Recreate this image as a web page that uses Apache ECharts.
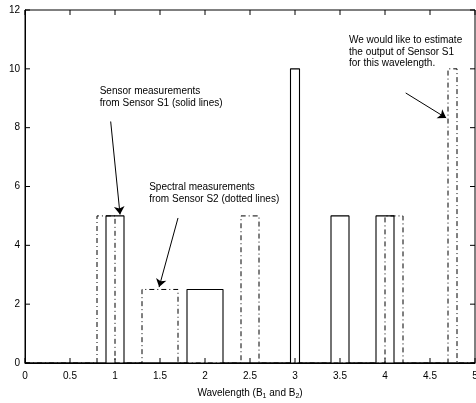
<!DOCTYPE html>
<html>
<head>
<meta charset="utf-8">
<script src="https://cdn.jsdelivr.net/npm/echarts@6/dist/echarts.min.js"></script>
<style>
  html, body { margin: 0; padding: 0; background: #fff; }
  #main { width: 476px; height: 403px; }
</style>
</head>
<body>
<div id="main"></div>
<script>
// Sensor S1 (solid lines): band start, band end, power
const s1Starts = [0.9, 1.8, 2.95, 3.4, 3.9];
const s1Ends = [1.1, 2.2, 3.05, 3.6, 4.1];
const s1Power = [5, 2.5, 10, 5, 5];

// Sensor S2 (dash-dot lines)
const s2Starts = [0.8, 1.3, 2.4, 4.0, 4.7];
const s2Ends = [1.0, 1.7, 2.6, 4.2, 4.8];
const s2Power = [5, 2.5, 5, 5, 10];

// tick values (box ticks on all four sides)
const xTicks = [0, 0.5, 1, 1.5, 2, 2.5, 3, 3.5, 4, 4.5, 5];
const yTicks = [0, 2, 4, 6, 8, 10, 12];

// annotation texts, anchor (top-left) in data units
const noteTexts = [
  'Sensor measurements\nfrom Sensor S1 (solid lines)',
  'Spectral measurements\nfrom Sensor S2 (dotted lines)',
  'We would like to estimate\nthe output of Sensor S1\nfor this wavelength.'
];
const noteAt = [[0.83, 9.42], [1.38, 6.16], [3.6, 11.16]];

// arrows: [from, to] in data units
const arrows = [
  [[0.952, 8.21], [1.056, 5.05]],
  [[1.70, 4.93], [1.49, 2.58]],
  [[4.23, 9.18], [4.68, 8.33]]
];

function bandPath(starts, ends, power) {
  const pts = [[0, 0]];
  for (let i = 0; i < starts.length; i++) {
    pts.push([starts[i], 0], [starts[i], power[i]], [ends[i], power[i]], [ends[i], 0]);
  }
  pts.push([5, 0]);
  return pts;
}

const font = 'Liberation Sans, Arial, sans-serif';
const TICK = 5;
const chart = echarts.init(document.getElementById('main'));

function tickLine(x1, y1, x2, y2) {
  return {
    type: 'line', silent: true,
    shape: { x1: x1, y1: y1, x2: x2, y2: y2 },
    style: { stroke: '#000', lineWidth: 1 }
  };
}

chart.setOption({
  animation: false,
  backgroundColor: '#fff',
  grid: { left: 25, right: 1, top: 10, bottom: 40, outerBoundsMode: 'none', show: true, borderColor: '#000', borderWidth: 1 },
  xAxis: {
    type: 'value', min: 0, max: 5, interval: 0.5,
    axisLine: { show: true, lineStyle: { color: '#000', width: 1 } },
    axisTick: { show: false },
    splitLine: { show: false },
    axisLabel: { color: '#000', fontSize: 10, fontFamily: font, margin: 8 },
    name: 'Wavelength (B{s|1} and B{s|2})',
    nameLocation: 'middle', nameGap: 24,
    nameTextStyle: {
      color: '#000', fontSize: 10, fontFamily: font,
      rich: { s: { fontSize: 7, fontFamily: font, color: '#000', padding: [6, 0, 0, 0] } }
    }
  },
  yAxis: {
    type: 'value', min: 0, max: 12, interval: 2,
    axisLine: { show: true, lineStyle: { color: '#000', width: 1 } },
    axisTick: { show: false },
    splitLine: { show: false },
    axisLabel: { color: '#000', fontSize: 10, fontFamily: font, margin: 5 },
    name: 'Power, Z(B)', nameLocation: 'middle', nameGap: 13,
    nameTextStyle: { color: '#000', fontSize: 10, fontFamily: font }
  },
  series: [
    {
      name: 'S1', type: 'line', data: bandPath(s1Starts, s1Ends, s1Power),
      symbol: 'none', z: 3,
      lineStyle: { color: '#000', width: 1.1 }
    },
    {
      name: 'S2', type: 'line', data: bandPath(s2Starts, s2Ends, s2Power),
      symbol: 'none', z: 2,
      lineStyle: { color: '#000', width: 1, type: [5, 3, 1, 3] }
    },
    {
      // annotation arrows
      type: 'lines', coordinateSystem: 'cartesian2d', silent: true, z: 5,
      symbol: ['none', 'arrow'], symbolSize: 8,
      lineStyle: { color: '#000', width: 1, opacity: 1 },
      data: arrows.map(a => ({ coords: a }))
    },
    {
      // inward ticks on bottom and top edges
      type: 'custom', silent: true, z: 6, clip: false,
      data: xTicks.map(v => [v, 0]),
      encode: { x: 0, y: 1 },
      renderItem: function (params, api) {
        const v = api.value(0);
        const b = api.coord([v, 0]);
        const t = api.coord([v, 12]);
        return {
          type: 'group',
          children: [
            tickLine(b[0], b[1], b[0], b[1] - TICK),
            tickLine(t[0], t[1], t[0], t[1] + TICK)
          ]
        };
      }
    },
    {
      // inward ticks on left and right edges
      type: 'custom', silent: true, z: 6, clip: false,
      data: yTicks.map(v => [0, v]),
      encode: { x: 0, y: 1 },
      renderItem: function (params, api) {
        const v = api.value(1);
        const l = api.coord([0, v]);
        const r = api.coord([5, v]);
        return {
          type: 'group',
          children: [
            tickLine(l[0], l[1], l[0] + TICK, l[1]),
            tickLine(r[0], r[1], r[0] - TICK, r[1])
          ]
        };
      }
    }
  ]
});

chart.setOption({
  graphic: noteTexts.map((t, i) => {
    const p = chart.convertToPixel({ xAxisIndex: 0, yAxisIndex: 0 }, noteAt[i]);
    return {
      type: 'text', x: p[0], y: p[1], z: 10,
      style: { text: t, fill: '#000', font: '10px ' + font, lineHeight: 11.5, verticalAlign: 'top' }
    };
  })
});
</script>
</body>
</html>
